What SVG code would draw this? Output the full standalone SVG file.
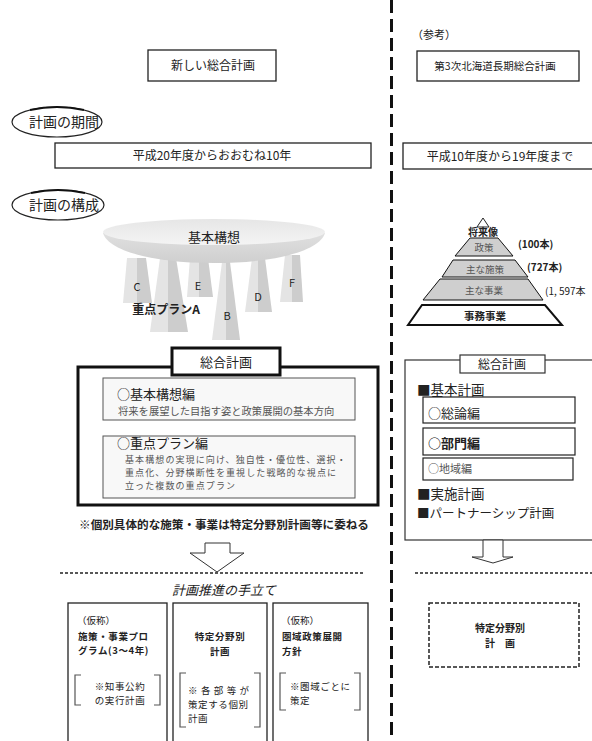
<svg xmlns="http://www.w3.org/2000/svg" width="592" height="741" viewBox="0 0 592 741">
  <defs>
    <style>
      .t { font-family: "Noto Sans CJK JP", "Noto Sans CJK SC", "Liberation Sans", sans-serif; fill: #222; }
      .b { font-weight: bold; }
      .g { fill: #555; }
      .s { font-size: 9.5px; letter-spacing: 0.6px; }
      .box { fill: #fff; stroke: #222; stroke-width: 1.3; }
      .thick { fill: #fff; stroke: #111; stroke-width: 3; }
      .inner { fill: #f8f8f8; stroke: #555; stroke-width: 1; }
      .hdash { fill: none; stroke: #222; stroke-width: 1.5; stroke-dasharray: 3 2; }
      .brk { fill: none; stroke: #555; stroke-width: 1.2; }
      .arrow { fill: #fff; stroke: #333; stroke-width: 1; }
      .pl { fill: #e4e4e4; }
      .pr { fill: #cdcdcd; }
      .layer { fill: #cfcfcf; stroke: #111; stroke-width: 1; }
    </style>
    <linearGradient id="topGrad" x1="0" y1="0" x2="0" y2="1">
      <stop offset="0" stop-color="#e6e6e6"/>
      <stop offset="1" stop-color="#f4f4f4"/>
    </linearGradient>
    <linearGradient id="rimGrad" x1="0" y1="0" x2="0" y2="1">
      <stop offset="0" stop-color="#e0e0e0"/>
      <stop offset="1" stop-color="#cfcfcf"/>
    </linearGradient>
  </defs>

  <rect width="592" height="741" fill="#fff"/>

  <!-- divider between the new plan and the reference plan -->
  <line x1="391.5" y1="0" x2="391.5" y2="741" stroke="#111" stroke-width="3" stroke-dasharray="13 6"/>

  <!-- headings -->
  <g id="new-plan-title">
    <rect class="box" x="148" y="50" width="128" height="31"/>
    <text class="t" x="213" y="70" font-size="12" text-anchor="middle">新しい総合計画</text>
  </g>
  <g id="ref-label">
    <text class="t" x="412" y="39" font-size="11">（参考）</text>
  </g>
  <g id="ref-plan-title">
    <rect class="box" x="417" y="51" width="162" height="30"/>
    <text class="t" x="495" y="70" font-size="10.5" text-anchor="middle">第3次北海道長期総合計画</text>
  </g>

  <!-- period -->
  <g id="label-period">
    <ellipse cx="57" cy="122" rx="45" ry="15" fill="#fff" stroke="#222" stroke-width="1.2"/>
    <path d="M30,110 Q57,104 84,110" fill="none" stroke="#111" stroke-width="2.2"/>
    <text class="t" x="64" y="127" font-size="14" text-anchor="middle">計画の期間</text>
  </g>
  <g id="period-new">
    <rect class="box" x="55" y="143" width="316" height="25"/>
    <text class="t" x="212" y="160" font-size="12" text-anchor="middle">平成20年度からおおむね10年</text>
  </g>
  <g id="period-ref">
    <rect class="box" x="403" y="143" width="195" height="26"/>
    <text class="t" x="500" y="161" font-size="12" text-anchor="middle">平成10年度から19年度まで</text>
  </g>

  <!-- structure -->
  <g id="label-structure">
    <ellipse cx="58" cy="205" rx="46" ry="15" fill="#fff" stroke="#222" stroke-width="1.2"/>
    <path d="M31,193 Q58,187 85,193" fill="none" stroke="#111" stroke-width="2.2"/>
    <text class="t" x="64" y="210" font-size="14" text-anchor="middle">計画の構成</text>
  </g>

  <!-- table of pillars: basic vision on top, priority plans below -->
  <g id="pillars">
    <g id="pillar-c">
      <polygon class="pl" points="127,258 137,258 137,303 123,303"/>
      <polygon class="pr" points="137,258 146,258 152,303 137,303"/>
      <text class="t" x="137" y="291" font-size="11" text-anchor="middle">C</text>
    </g>
    <g id="pillar-e">
      <polygon class="pl" points="190,258 199,258 199,297 187,297"/>
      <polygon class="pr" points="199,258 208,258 213,297 199,297"/>
      <text class="t" x="198" y="290" font-size="11" text-anchor="middle">E</text>
    </g>
    <g id="pillar-f">
      <polygon class="pl" points="285,255 292,255 292,302 280,302"/>
      <polygon class="pr" points="292,255 300,255 303,302 292,302"/>
      <text class="t" x="292" y="287" font-size="11" text-anchor="middle">F</text>
    </g>
    <g id="pillar-d">
      <polygon class="pl" points="252,258 258,258 258,312 245,312"/>
      <polygon class="pr" points="258,258 265,258 272,312 258,312"/>
      <text class="t" x="258" y="301" font-size="11" text-anchor="middle">D</text>
    </g>
    <g id="pillar-a">
      <polygon class="pl" points="160,258 168,258 168,332 150,332"/>
      <polygon class="pr" points="168,258 176,258 188,332 168,332"/>
    </g>
    <g id="pillar-b">
      <polygon class="pl" points="222,262 226,262 226,340 212,340"/>
      <polygon class="pr" points="226,262 230,262 240,340 226,340"/>
      <text class="t" x="227" y="320" font-size="11" text-anchor="middle">B</text>
    </g>
    <text class="t b" x="166" y="314" font-size="12" text-anchor="middle" fill="#111">重点プランA</text>
  </g>
  <g id="basic-vision">
    <path d="M103,233 C108,250 150,263 214,263 C278,263 320,250 325,233 Z" fill="url(#rimGrad)"/>
    <ellipse cx="214" cy="232" rx="111" ry="13" fill="url(#topGrad)"/>
    <text class="t" x="214" y="242" font-size="13" text-anchor="middle">基本構想</text>
  </g>

  <!-- pyramid of the reference plan -->
  <g id="pyramid">
    <polygon points="483,218 489,227 477,227" fill="#fff" stroke="#222" stroke-width="1"/>
    <text class="t b" x="483" y="236" font-size="10" text-anchor="middle">将来像</text>
    <polygon class="layer" points="470,238 498,238 513,256 455,256"/>
    <text class="t g" x="484" y="251" font-size="9.5" text-anchor="middle">政策</text>
    <polygon class="layer" points="453,260 515,260 528,277 442,277"/>
    <text class="t g" x="485" y="273" font-size="9.5" text-anchor="middle">主な施策</text>
    <polygon class="layer" points="440,279 528,279 543,300 423,300"/>
    <text class="t g" x="484" y="294" font-size="9.5" text-anchor="middle">主な事業</text>
    <polygon points="422,305 545,305 562,325 408,325" fill="#fff" stroke="#111" stroke-width="2"/>
    <text class="t b" x="485" y="320" font-size="10.5" text-anchor="middle">事務事業</text>
    <text class="t b" x="518" y="248" font-size="10">(100本)</text>
    <text class="t b" x="527" y="271" font-size="10">(727本)</text>
    <text class="t" x="545" y="295" font-size="10">(1, 597本</text>
  </g>

  <!-- new comprehensive plan -->
  <g id="plan-new">
    <rect class="thick" x="78" y="367" width="300" height="138"/>
    <rect class="thick" x="172" y="348" width="108" height="27"/>
    <text class="t" x="226" y="367" font-size="13" text-anchor="middle">総合計画</text>
  </g>
  <g id="part-basic">
    <rect class="inner" x="103" y="378" width="252" height="42"/>
    <text class="t" x="117" y="399" font-size="13">○基本構想編</text>
    <text class="t g" x="118" y="415" font-size="10.3">将来を展望した目指す姿と政策展開の基本方向</text>
  </g>
  <g id="part-priority">
    <rect class="inner" x="103" y="436" width="252" height="62"/>
    <text class="t" x="117" y="448" font-size="13">○重点プラン編</text>
    <text class="t g" x="125" y="463" font-size="9" letter-spacing="1.1">基本構想の実現に向け、独自性・優位性、選択・</text>
    <text class="t g" x="125" y="476" font-size="9" letter-spacing="1.1">重点化、分野横断性を重視した戦略的な視点に</text>
    <text class="t g" x="125" y="489" font-size="9" letter-spacing="1.1">立った複数の重点プラン</text>
  </g>
  <g id="note">
    <text class="t b" x="224" y="529" font-size="11.6" text-anchor="middle">※個別具体的な施策・事業は特定分野別計画等に委ねる</text>
  </g>

  <!-- reference comprehensive plan -->
  <g id="plan-ref">
    <rect x="405" y="360" width="200" height="180" fill="#fff" stroke="#333" stroke-width="1.2"/>
    <rect x="460" y="355" width="85" height="18" fill="#fff" stroke="#333" stroke-width="1.2"/>
    <text class="t" x="502" y="368.5" font-size="12" text-anchor="middle">総合計画</text>
    <text class="t" x="417" y="395" font-size="13.5">■基本計画</text>
    <text class="t" x="417" y="499" font-size="13.5">■実施計画</text>
    <text class="t" x="417" y="518" font-size="12.5">■パートナーシップ計画</text>
  </g>
  <g id="part-general">
    <rect x="423" y="397" width="152" height="26" fill="#fff" stroke="#222" stroke-width="1.2"/>
    <text class="t" x="428" y="418" font-size="13">○総論編</text>
  </g>
  <g id="part-sector">
    <rect x="423" y="428" width="152" height="27" fill="#fff" stroke="#222" stroke-width="1.2"/>
    <text class="t b" x="428" y="448" font-size="13">○部門編</text>
  </g>
  <g id="part-region">
    <rect x="423" y="458" width="150" height="22" fill="#fff" stroke="#222" stroke-width="1.2"/>
    <text class="t g" x="428" y="473" font-size="11">○地域編</text>
  </g>

  <!-- connectors -->
  <g id="connectors">
    <polygon class="arrow" points="205,543 230,543 230,553 244,553 217,572 190,553 205,553"/>
    <polygon class="arrow" points="483,540 503,540 503,557 513,557 493,563 472,557 483,557"/>
    <line class="hdash" x1="60" y1="573" x2="365" y2="573"/>
    <line class="hdash" x1="415" y1="573" x2="592" y2="573"/>
  </g>

  <g id="means-label">
    <text class="t" x="224" y="595" font-size="13" text-anchor="middle" font-style="italic">計画推進の手立て</text>
  </g>

  <!-- means of promotion -->
  <g id="means-program">
    <rect class="box" x="68" y="603" width="99" height="145"/>
    <text class="t" x="77" y="624" font-size="9.5">（仮称）</text>
    <text class="t b s" x="78" y="640">施策・事業プロ</text>
    <text class="t b s" x="78" y="654">グラム(3～4年)</text>
    <path class="brk" d="M81,675 H75 V705 H81 M154,675 H160 V705 H154"/>
    <text class="t s" x="120" y="690" text-anchor="middle">※知事公約</text>
    <text class="t s" x="120" y="704" text-anchor="middle">の実行計画</text>
  </g>
  <g id="means-sector">
    <rect class="box" x="173" y="603" width="94" height="145"/>
    <text class="t b s" x="220" y="640" text-anchor="middle">特定分野別</text>
    <text class="t b s" x="220" y="655" text-anchor="middle">計画</text>
    <path class="brk" d="M186,673 H180 V727 H186 M254,673 H260 V727 H254"/>
    <text class="t" x="188" y="694" font-size="9.5" letter-spacing="3.4">※各部等が</text>
    <text class="t s" x="188" y="708">策定する個別</text>
    <text class="t s" x="188" y="722">計画</text>
  </g>
  <g id="means-region">
    <rect class="box" x="273" y="603" width="95" height="145"/>
    <text class="t" x="281" y="624" font-size="9.5">（仮称）</text>
    <text class="t b s" x="282" y="640">圏域政策展開</text>
    <text class="t b s" x="282" y="655">方針</text>
    <path class="brk" d="M286,673 H280 V710 H286 M354,673 H360 V710 H354"/>
    <text class="t s" x="290" y="690">※圏域ごとに</text>
    <text class="t s" x="290" y="704">策定</text>
  </g>
  <g id="means-ref">
    <rect x="429" y="603" width="150" height="64" fill="#fff" stroke="#222" stroke-width="1.5" stroke-dasharray="4 2"/>
    <text class="t b" x="500" y="632" font-size="10" text-anchor="middle">特定分野別</text>
    <text class="t b" x="500" y="647" font-size="10" text-anchor="middle">計　画</text>
  </g>
</svg>
